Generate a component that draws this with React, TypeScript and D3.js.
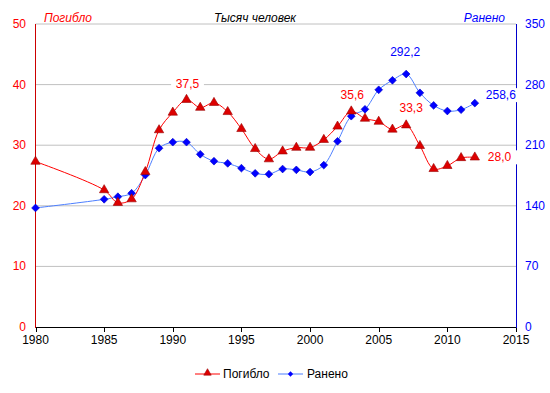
import React from 'react';
import * as d3 from 'd3';

const years = [1980, 1985, 1986, 1987, 1988, 1989, 1990, 1991, 1992, 1993, 1994, 1995, 1996, 1997, 1998, 1999, 2000, 2001, 2002, 2003, 2004, 2005, 2006, 2007, 2008, 2009, 2010, 2011, 2012];
const killed = [27.3, 22.6, 20.5, 21.1, 25.6, 32.5, 35.4, 37.5, 36.2, 37.0, 35.5, 32.7, 29.4, 27.7, 29.0, 29.6, 29.6, 30.9, 33.1, 35.6, 34.4, 33.9, 32.6, 33.3, 29.9, 26.1, 26.6, 27.9, 28.0];
const injured = [137.5, 147.5, 150.5, 154.5, 175.5, 206.5, 213.5, 213.5, 199.5, 191.5, 189.0, 183.5, 177.5, 176.5, 182.5, 181.5, 179.0, 187.0, 214.5, 243.5, 251.5, 274.0, 285.0, 292.2, 270.5, 256.0, 249.5, 251.0, 258.6];
const leftTicks = [0, 10, 20, 30, 40, 50];
const rightTicks = [0, 70, 140, 210, 280, 350];
const yearTicks = [1980, 1985, 1990, 1995, 2000, 2005, 2010, 2015];
// подписи значений: год, серия
const killedLabels = [1991, 2003, 2007, 2012];
const injuredLabels = [2007, 2012];

const W = 550, H = 393;
const font = '"Liberation Sans", Arial, sans-serif';
const fmt = (v: number) => v.toFixed(1).replace('.', ',');

const App: React.FC = () => {
    const x = d3.scaleLinear().domain([1980, 2015]).range([35.5, 516]);
    const yL = d3.scaleLinear().domain([0, 50]).range([327, 24]);
    const yR = d3.scaleLinear().domain([0, 350]).range([327, 24]);

    const redLine = d3.line<number>()
        .x((_, i) => x(years[i]))
        .y(d => yL(d))
        .curve(d3.curveCatmullRom.alpha(0.5));
    const blueLine = d3.line<number>()
        .x((_, i) => x(years[i]))
        .y(d => yR(d))
        .curve(d3.curveCatmullRom.alpha(0.5));

    const tri = d3.symbol(d3.symbolTriangle, 38)()!;
    const dia = d3.symbol(d3.symbolSquare, 30)()!;
    const diaSmall = d3.symbol(d3.symbolSquare, 14)()!;

    const label = (yr: number, val: number, sy: d3.ScaleLinear<number, number>, color: string,
        dx: number, dy: number, anchor: string, key: string) => {
        const px = x(yr) + dx, py = sy(val) + dy;
        const txt = fmt(val);
        const w = txt.length * 6.7;
        const rx = anchor === 'middle' ? px - w / 2 : px;
        return (
            <g key={key}>
                <rect x={rx - 3} y={py - 7} width={w + 6} height={14} fill="#fff" />
                <text x={px} y={py + 4} textAnchor={anchor} fill={color} fontSize={12}>{txt}</text>
            </g>
        );
    };

    return (
        <svg width={W} height={H} style={{ position: 'absolute', left: 0, top: 0, fontFamily: font }}>
            <rect width={W} height={H} fill="#fff" />
            {leftTicks.filter(t => t > 0).map(t => (
                <line key={t} x1={35.5} x2={516} y1={yL(t)} y2={yL(t)} stroke="#c0c0c0" />
            ))}

            {/* заголовки */}
            <text x={44} y={22} fill="#ff0000" fontSize={12} fontStyle="italic">Погибло</text>
            <text x={255} y={22} fill="#000" fontSize={12} fontStyle="italic" textAnchor="middle">Тысяч человек</text>
            <text x={505} y={22} fill="#0000ff" fontSize={12} fontStyle="italic" textAnchor="end">Ранено</text>

            {/* оси */}
            <line x1={35.5} x2={516} y1={327.5} y2={327.5} stroke="#000" />
            {yearTicks.map(t => (
                <g key={t}>
                    <line x1={Math.round(x(t)) + 0.5} x2={Math.round(x(t)) + 0.5} y1={327} y2={332} stroke="#000" />
                    <text x={x(t)} y={344} textAnchor="middle" fontSize={12} fill="#000">{t}</text>
                </g>
            ))}
            <line x1={35.5} x2={35.5} y1={24} y2={328} stroke="#cc0000" />
            {leftTicks.map(t => (
                <text key={t} x={26} y={yL(t) + 4} textAnchor="end" fontSize={12} fill="#ff0000">{t}</text>
            ))}
            <line x1={516.5} x2={516.5} y1={24} y2={328} stroke="#0000cc" />
            {rightTicks.map(t => (
                <text key={t} x={525} y={yR(t) + 4} textAnchor="start" fontSize={12} fill="#0000ff">{t}</text>
            ))}

            {/* серии */}
            <path d={blueLine(injured)!} fill="none" stroke="#4d7fff" strokeWidth={1} />
            <path d={redLine(killed)!} fill="none" stroke="#ff0000" strokeWidth={1} />
            {injured.map((v, i) => (
                <path key={'b' + i} d={dia} transform={`translate(${x(years[i])},${yR(v)}) rotate(45)`} fill="#0000ff" stroke="#0000cc" strokeWidth={0.6} />
            ))}
            {killed.map((v, i) => (
                <path key={'r' + i} d={tri} transform={`translate(${x(years[i])},${yL(v)})`} fill="#dd0000" stroke="#990000" strokeWidth={0.6} />
            ))}

            {/* подписи */}
            {killedLabels.map(yr => {
                const v = killed[years.indexOf(yr)];
                if (yr === 2012) return label(yr, v, yL, '#ff0000', 13, 0, 'start', 'k' + yr);
                if (yr === 2007) return label(yr, v, yL, '#ff0000', 5, -17, 'middle', 'k' + yr);
                return label(yr, v, yL, '#ff0000', 1, -16, 'middle', 'k' + yr);
            })}
            {injuredLabels.map(yr => {
                const v = injured[years.indexOf(yr)];
                if (yr === 2012) return label(yr, v, yR, '#0000ff', 11, -8, 'start', 'i' + yr);
                return label(yr, v, yR, '#0000ff', -1, -22, 'middle', 'i' + yr);
            })}

            {/* легенда */}
            <line x1={195} x2={220} y1={374} y2={374} stroke="#ff0000" />
            <path d={d3.symbol(d3.symbolTriangle, 24)()!} transform="translate(207.5,373)" fill="#dd0000" stroke="#990000" strokeWidth={0.6} />
            <text x={223} y={378} fontSize={12} fill="#000">Погибло</text>
            <line x1={278} x2={303} y1={374} y2={374} stroke="#4d7fff" />
            <path d={diaSmall} transform="translate(290.5,374) rotate(45)" fill="#0000ff" />
            <text x={307} y={378} fontSize={12} fill="#000">Ранено</text>
        </svg>
    );
};

export default App;
